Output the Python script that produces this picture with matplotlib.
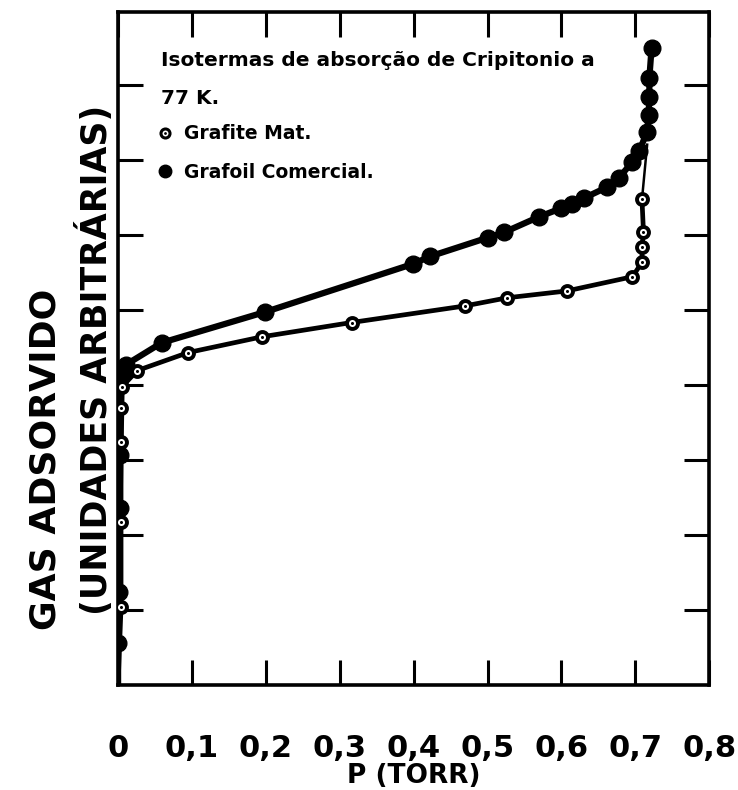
import matplotlib
matplotlib.use("Agg")
import matplotlib.pyplot as plt
from matplotlib.lines import Line2D

plt.rcParams["font.family"] = ["DejaVu Sans"]
plt.rcParams["font.weight"] = "bold"

# Grafite Mat. (open circles); last point is the line end without a marker
mat_p = [0.0, 0.004, 0.004, 0.004, 0.004, 0.005, 0.026, 0.095, 0.195, 0.316,
         0.469, 0.527, 0.607, 0.696, 0.709, 0.709, 0.711, 0.709, 0.716]
mat_gas = [0.0, 1.04, 2.17, 3.24, 3.69, 3.97, 4.19, 4.43, 4.64, 4.83,
           5.05, 5.16, 5.25, 5.44, 5.63, 5.83, 6.04, 6.47, 7.20]

# Grafoil Comercial (filled circles)
foil_p = [0.0, 0.001, 0.002, 0.003, 0.005, 0.011, 0.059, 0.199, 0.399, 0.422,
          0.500, 0.522, 0.570, 0.599, 0.614, 0.631, 0.661, 0.678, 0.696,
          0.705, 0.716, 0.718, 0.719, 0.719, 0.722]
foil_gas = [0.56, 1.24, 2.36, 3.07, 4.15, 4.27, 4.56, 4.97, 5.61, 5.71,
            5.96, 6.03, 6.24, 6.35, 6.41, 6.49, 6.63, 6.76, 6.97,
            7.11, 7.37, 7.60, 7.84, 8.09, 8.49]

x_ticks = [0, 0.1, 0.2, 0.3, 0.4, 0.5, 0.6, 0.7, 0.8]
x_labels = ["0", "0,1", "0,2", "0,3", "0,4", "0,5", "0,6", "0,7", "0,8"]
y_ticks = [1, 2, 3, 4, 5, 6, 7, 8]

fig = plt.figure(figsize=(7.38, 7.90), dpi=100)
ax = fig.add_axes([0.160, 0.133, 0.801, 0.852])

# open-circle curve: thick main part, thin final segment to the other curve
ax.plot(mat_p[:-1], mat_gas[:-1], color="black", lw=3.4, zorder=2)
ax.plot(mat_p[-2:], mat_gas[-2:], color="black", lw=1.8, zorder=2)
ax.plot(mat_p[1:-1], mat_gas[1:-1], linestyle="none", marker="o", ms=7.9,
        mfc="white", mec="black", mew=2.8, zorder=3)
ax.plot(mat_p[1:-1], mat_gas[1:-1], linestyle="none", marker="o", ms=2.2,
        mfc="black", mec="black", mew=0, zorder=4)

# filled-circle curve
ax.plot([0.0] + foil_p, [0.0] + foil_gas, color="black", lw=4.5, zorder=2)
ax.plot(foil_p, foil_gas, linestyle="none", marker="o", ms=12,
        mfc="black", mec="black", zorder=3)

ax.set_xlim(0, 0.8)
ax.set_ylim(0, 8.97)
ax.set_xticks(x_ticks)
ax.set_xticklabels(x_labels, fontsize=22, fontweight="bold")
ax.set_yticks(y_ticks)
ax.set_yticklabels([])
ax.tick_params(direction="in", length=18, width=2.2, top=True, right=True,
               pad=35)
for s in ax.spines.values():
    s.set_linewidth(2.6)

ax.set_xlabel("P (TORR)", fontsize=19, fontweight="bold", labelpad=0)

fig.text(0.061, 0.418, "GAS ADSORVIDO", rotation=90, fontsize=26,
         fontweight="bold", ha="center", va="center")
fig.text(0.129, 0.544, "(UNIDADES ARBITRÁRIAS)", rotation=90, fontsize=25,
         fontweight="bold", ha="center", va="center")

# legend
ax.text(0.072, 0.928, "Isotermas de absorção de Cripitonio a", fontsize=14.5,
        fontweight="bold", transform=ax.transAxes, va="center")
ax.text(0.072, 0.872, "77 K.", fontsize=14.5, fontweight="bold",
        transform=ax.transAxes, va="center")
h_open = Line2D([], [], linestyle="none", marker="o", ms=6.5, mfc="white",
                mec="black", mew=2.2)
h_dot = Line2D([], [], linestyle="none", marker="o", ms=2, mfc="black",
               mew=0)
h_foil = Line2D([], [], linestyle="none", marker="o", ms=9, mfc="black",
                mec="black")
ax.legend([(h_open, h_dot), h_foil], ["Grafite Mat.", "Grafoil Comercial."],
          loc="upper left", bbox_to_anchor=(0.064, 0.833), frameon=False,
          prop={"size": 13.5, "weight": "bold"}, handlelength=0.95,
          handletextpad=0.55, labelspacing=1.05, borderpad=0, borderaxespad=0)

fig.savefig("out.png", dpi=100)
